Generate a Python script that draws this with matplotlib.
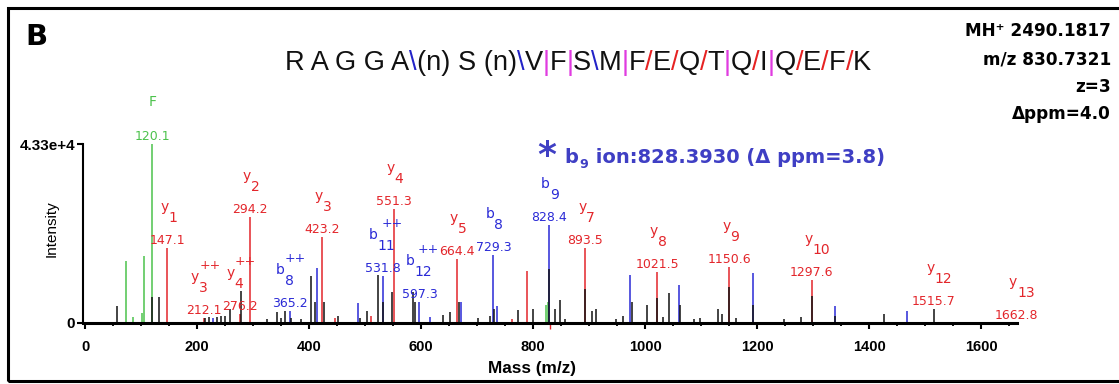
import matplotlib
matplotlib.use("Agg")
import matplotlib.pyplot as plt
from matplotlib.transforms import offset_copy
from matplotlib.patches import Rectangle
from matplotlib import font_manager

# ------------------------------------------------------------------ data
black_mz = [58, 120, 132, 215, 222, 235, 242, 250, 259, 278, 325, 342, 350, 357, 368, 385,
            404, 410, 427, 452, 491, 503, 524, 533, 548, 586, 590, 640, 652, 667, 702, 723,
            731, 774, 800, 828.4, 839, 848, 857, 893.5, 905, 912, 948, 961, 977, 1003, 1021.5,
            1033, 1043, 1062, 1088, 1098, 1131, 1137, 1150.6, 1163, 1192, 1248, 1278, 1297.6,
            1340, 1427, 1515.7]
black_int = [4200, 6300, 6400, 1300, 1500, 1500, 1700, 1700, 3500, 7800, 900, 2600, 1300, 3000, 1300, 900,
             11300, 5200, 5200, 1700, 1300, 3000, 11700, 5200, 7400, 7600, 5200, 1900, 2600, 5200, 1300, 1700,
             3500, 3200, 3500, 13000, 3500, 5600, 900, 8200, 3000, 3500, 900, 1700, 5200, 4300, 6100,
             1500, 7200, 4300, 900, 1300, 3500, 2200, 8700, 1300, 4300, 900, 1500, 6500,
             1700, 2100, 3400]

green_mz = [73, 85, 101, 105, 120.1, 823, 826]
green_int = [15000, 1500, 2300, 16300, 43300, 4300, 5200]

red_mz = [147.1, 212.1, 276.2, 294.2, 423.2, 446, 511, 551.3, 664.4, 762, 790, 893.5, 1021.5, 1150.6, 1297.6]
red_int = [18100, 1300, 2200, 25700, 20700, 1300, 1700, 27600, 15500, 900, 12600, 18100, 12400, 13600, 10300]

blue_mz = [229, 365.2, 414, 488, 531.8, 597.3, 616, 672, 729.3, 735, 828.4, 974, 1061, 1192, 1339, 1467]
blue_int = [1300, 3000, 13400, 4800, 11300, 5200, 1500, 5200, 16500, 4200, 23700, 11700, 9100, 12000, 4200, 2900]

# annotated fragment ions
ann_mz = [120.1, 147.1, 212.1, 276.2, 294.2, 365.2, 423.2, 531.8, 551.3, 597.3, 664.4, 729.3,
          828.4, 893.5, 1021.5, 1150.6, 1297.6, 1515.7, 1662.8]
ann_int = [43300, 18100, 1300, 2200, 25700, 3000, 20700, 11300, 27600, 5200, 15500, 16500,
           23700, 18100, 12400, 13600, 10300, 3400, 0]
ann_ion = ['F', 'y', 'y', 'y', 'y', 'b', 'y', 'b', 'y', 'b', 'y', 'b', 'b', 'y', 'y', 'y', 'y', 'y', 'y']
ann_sub = ['', '1', '3', '4', '2', '8', '3', '11', '4', '12', '5', '8', '9', '7', '8', '9', '10', '12', '13']
ann_charge = ['', '', '++', '++', '', '++', '', '++', '', '++', '', '', '', '', '', '', '', '', '']

precursor_mz = 830.7321
y_max = 43300
y_tick_labels = ['0', '4.33e+4']
x_major = list(range(0, 1601, 200))

sequence = "R A G G A\\(n) S (n)\\V|F|S\\M|F/E/Q/T|Q/I|Q/E/F/K"
precursor_info = ["MH\u207a 2490.1817", "m/z 830.7321", "z=3", "\u0394ppm=4.0"]
b9_note = ["*", "b", "9", " ion:828.3930 (\u0394 ppm=3.8)"]

# ------------------------------------------------------------------ style
W, H = 1119, 384
RED, BLUE, GREEN, BLACK = '#e3262b', '#2a2ad6', '#4cc24c', '#111111'
ION_COL = {'F': GREEN, 'y': RED, 'b': BLUE}
SEP_COL = {'\\': '#2323c8', '|': '#e03ce0', '/': '#e62222'}
NARROW = ['Liberation Sans Narrow', 'DejaVu Sans']

fig = plt.figure(figsize=(W / 100, H / 100), dpi=100)
fig.patch.set_facecolor('white')
renderer = fig.canvas.get_renderer()

def fx(px):
    return px / W

def fy(py):
    return 1 - py / H

ax = fig.add_axes([fx(83), (H - 323) / H, (1017.4 - 83) / W, 179 / H])
ax.set_xlim(-3.6, 1665)
ax.set_ylim(0, y_max)

lw = 1.1
ax.vlines(green_mz, 0, green_int, colors=GREEN, lw=lw)
ax.vlines(red_mz, 0, red_int, colors=RED, lw=lw)
ax.vlines(blue_mz, 0, blue_int, colors=BLUE, lw=lw)
ax.vlines(black_mz, 0, black_int, colors=BLACK, lw=lw)
ax.vlines([precursor_mz], -1500, 0, colors=RED, lw=1.0, clip_on=False)

for s in ['top', 'right']:
    ax.spines[s].set_visible(False)
ax.spines['left'].set_linewidth(1.5)
ax.spines['bottom'].set_linewidth(2.2)
ax.spines['bottom'].set_zorder(5)

ax.set_xticks(x_major)
ax.set_xticks(list(range(0, 1651, 50)), minor=True)
ax.tick_params(axis='x', which='major', direction='out', length=4.5, width=1.5, pad=7.5, labelsize=10.5)
ax.tick_params(axis='x', which='minor', direction='out', length=2.5, width=1.3)
ax.set_yticks([0, y_max])
ax.set_yticklabels(y_tick_labels)
ax.tick_params(axis='y', direction='out', length=4, width=1.5, pad=1.5, labelsize=11)
for lab in ax.get_xticklabels() + ax.get_yticklabels():
    lab.set_fontweight('bold')
    lab.set_family('Liberation Sans')

fig.text(fx(532), fy(369), "Mass (m/z)", ha='center', va='center', fontsize=12.4,
         fontweight='bold', family='Liberation Sans')
fig.text(fx(52), fy(229), "Intensity", ha='center', va='center', rotation=90,
         fontsize=11, family='Liberation Sans')

# ------------------------------------------------------------------ ion labels
def off(dx, dy):
    return offset_copy(ax.transData, fig=fig, x=dx, y=dy, units='dots')

for mz, it, ion, sub, chg in zip(ann_mz, ann_int, ann_ion, ann_sub, ann_charge):
    col = ION_COL[ion]
    ax.text(mz, it, f"{mz:.1f}", transform=off(0, 4), ha='center', va='baseline',
            color=col, fontsize=9, family=NARROW)
    if sub:
        sh = -6 if chg else 0
        ax.text(mz, it, ion, transform=off(sh + 1, 37), ha='right', va='baseline',
                color=col, fontsize=10, family=NARROW)
        ax.text(mz, it, sub, transform=off(sh + 1, 26), ha='left', va='baseline',
                color=col, fontsize=10, family=NARROW)
        if chg:
            ax.text(mz, it, chg, transform=off(6 + 3 * (len(sub) - 1), 49), ha='center',
                    va='baseline', color=col, fontsize=9, family=NARROW)
    else:
        ax.text(mz, it, ion, transform=off(0, 38), ha='center', va='baseline',
                color=col, fontsize=10, family=NARROW)

# ------------------------------------------------------------------ sequence
SEQ_SIZE = 19.6
seq_prop = font_manager.FontProperties(family='Liberation Sans', size=SEQ_SIZE)

def tw(s):
    return renderer.get_text_width_height_descent(s, seq_prop, ismath=False)[0]

runs = []
for ch in sequence:
    col = SEP_COL.get(ch, BLACK)
    if runs and runs[-1][1] == col:
        runs[-1][0] += ch
    else:
        runs.append([ch, col])

prefix = ''
for txt, col in runs:
    x = 285 + ((tw(prefix + txt[0]) - tw(txt[0])) if prefix else 0)
    fig.text(fx(x), fy(70), txt, color=col, fontproperties=seq_prop,
             ha='left', va='baseline')
    prefix += txt

# ------------------------------------------------------------------ other texts
fig.text(fx(25), fy(45), "B", fontsize=21, fontweight='bold', family='DejaVu Sans',
         ha='left', va='baseline')

for line, by in zip(precursor_info, [36, 65, 92, 119]):
    fig.text(fx(1111), fy(by), line, ha='right', va='baseline', fontsize=12.2,
             fontweight='bold', family='DejaVu Sans')

NOTE_COL = '#3f3fc4'
fig.text(fx(547), fy(166), b9_note[0], ha='center', va='baseline', fontsize=26,
         fontweight='bold', color=NOTE_COL, family='DejaVu Sans')
t_b = fig.text(fx(564), fy(163), b9_note[1], ha='left', va='baseline', fontsize=14.0,
               fontweight='bold', color=NOTE_COL, family='DejaVu Sans')
xb = 564 + t_b.get_window_extent(renderer).width + 1
t_s = fig.text(fx(xb), fy(168), b9_note[2], ha='left', va='baseline', fontsize=9.2,
               fontweight='bold', color=NOTE_COL, family='DejaVu Sans')
xs = xb + t_s.get_window_extent(renderer).width + 1
fig.text(fx(xs), fy(163), b9_note[3], ha='left', va='baseline', fontsize=14.0,
         fontweight='bold', color=NOTE_COL, family='DejaVu Sans')

# figure frame
fig.patches.append(Rectangle((fx(8), fy(381)), (1130 - 8) / W, (381 - 8) / H,
                             transform=fig.transFigure, fill=False, lw=2.2,
                             edgecolor='black', clip_on=False))

fig.savefig("out.png", dpi=100)
